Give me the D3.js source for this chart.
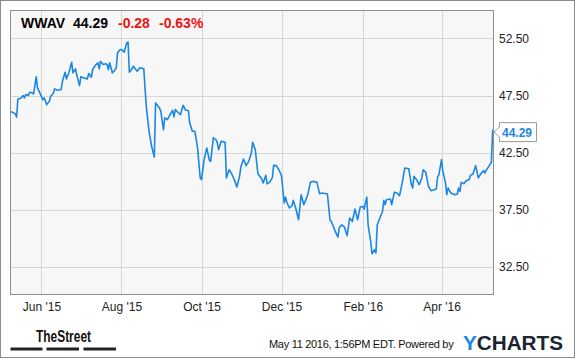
<!DOCTYPE html>
<html>
<head>
<meta charset="utf-8">
<script src="https://cdn.jsdelivr.net/npm/d3@7/dist/d3.min.js"></script>
<style>
  body { margin: 0; background: #fff; }
  svg { display: block; font-family: "Liberation Sans", Arial, sans-serif; }
</style>
</head>
<body>
<svg id="chart" width="575" height="358"></svg>
<script>
// price data (WWAV, daily-ish closes)
const dates = [
  "2015-05-08","2015-05-12","2015-05-13","2015-05-14","2015-05-16","2015-05-18","2015-05-19","2015-05-20","2015-05-22","2015-05-23",
  "2015-05-25","2015-05-26","2015-05-28","2015-05-29","2015-05-31","2015-06-02","2015-06-03","2015-06-05","2015-06-07","2015-06-08",
  "2015-06-10","2015-06-11","2015-06-13","2015-06-16","2015-06-17","2015-06-19","2015-06-20","2015-06-22","2015-06-24","2015-06-25",
  "2015-06-27","2015-06-28","2015-06-30","2015-07-01","2015-07-03","2015-07-06","2015-07-07","2015-07-09","2015-07-10","2015-07-12",
  "2015-07-14","2015-07-15","2015-07-16","2015-07-18","2015-07-20","2015-07-21","2015-07-22","2015-07-23","2015-07-25","2015-07-27",
  "2015-07-28","2015-07-29","2015-07-31","2015-08-01","2015-08-03","2015-08-05","2015-08-06","2015-08-07","2015-08-09","2015-08-10",
  "2015-08-13","2015-08-15","2015-08-18","2015-08-19","2015-08-20","2015-08-22","2015-08-24","2015-08-26","2015-08-27","2015-08-30",
  "2015-08-31","2015-09-02","2015-09-03","2015-09-05","2015-09-07","2015-09-09","2015-09-10","2015-09-11","2015-09-13","2015-09-15",
  "2015-09-17","2015-09-19","2015-09-21","2015-09-22","2015-09-24","2015-09-26","2015-09-28","2015-09-30","2015-10-01","2015-10-03",
  "2015-10-05","2015-10-07","2015-10-08","2015-10-10","2015-10-12","2015-10-13","2015-10-14","2015-10-16","2015-10-19","2015-10-20",
  "2015-10-22","2015-10-24","2015-10-26","2015-10-28","2015-10-30","2015-10-31","2015-11-02","2015-11-04","2015-11-06","2015-11-08",
  "2015-11-09","2015-11-11","2015-11-13","2015-11-16","2015-11-17","2015-11-19","2015-11-20","2015-11-22","2015-11-24","2015-11-25",
  "2015-11-27","2015-11-29","2015-12-01","2015-12-03","2015-12-04","2015-12-05","2015-12-07","2015-12-09","2015-12-10","2015-12-12",
  "2015-12-14","2015-12-16","2015-12-18","2015-12-21","2015-12-23","2015-12-25","2015-12-28","2015-12-30","2016-01-01","2016-01-05",
  "2016-01-07","2016-01-08","2016-01-10","2016-01-11","2016-01-13","2016-01-14","2016-01-16","2016-01-18","2016-01-20","2016-01-22",
  "2016-01-24","2016-01-26","2016-01-28","2016-01-30","2016-02-01","2016-02-02","2016-02-04","2016-02-05","2016-02-07","2016-02-08",
  "2016-02-10","2016-02-11","2016-02-12","2016-02-14","2016-02-16","2016-02-17","2016-02-18","2016-02-19","2016-02-22","2016-02-23",
  "2016-02-25","2016-02-27","2016-02-29","2016-03-02","2016-03-04","2016-03-07","2016-03-09","2016-03-10","2016-03-11","2016-03-13",
  "2016-03-15","2016-03-17","2016-03-18","2016-03-20","2016-03-22","2016-03-24","2016-03-28","2016-03-29","2016-03-30","2016-04-01",
  "2016-04-02","2016-04-04","2016-04-05","2016-04-06","2016-04-08","2016-04-11","2016-04-13","2016-04-14","2016-04-15","2016-04-16",
  "2016-04-18","2016-04-20","2016-04-22","2016-04-23","2016-04-25","2016-04-27","2016-04-28","2016-04-29","2016-05-01","2016-05-03",
  "2016-05-04","2016-05-05","2016-05-07","2016-05-09","2016-05-10","2016-05-11"
];
const prices = [
  46.11, 45.91, 45.59, 47.20, 47.23, 47.49, 47.29, 47.58, 47.49, 47.78,
  47.73, 47.64, 49.14, 48.17, 47.67, 47.14, 47.29, 46.70, 46.99, 47.43,
  47.67, 48.08, 47.96, 48.02, 48.75, 49.54, 48.96, 49.54, 50.42, 49.49,
  49.84, 49.25, 48.37, 49.14, 49.05, 48.96, 49.43, 49.10, 49.78, 50.13,
  50.37, 49.84, 50.51, 50.22, 50.28, 50.22, 49.78, 50.37, 49.49, 49.72,
  49.93, 51.24, 51.53, 51.53, 51.30, 52.12, 52.18, 49.54, 49.84, 50.07,
  49.63, 49.93, 49.84, 48.02, 46.44, 44.36, 43.04, 42.11, 46.85, 46.41,
  46.11, 44.51, 45.54, 45.39, 45.83, 46.20, 45.62, 46.26, 46.03, 45.83,
  46.64, 46.20, 46.18, 45.10, 44.36, 44.36, 42.90, 40.27, 40.12, 41.87,
  42.90, 41.81, 41.72, 43.78, 43.63, 43.39, 42.75, 43.48, 43.39, 40.27,
  40.99, 40.64, 40.12, 39.47, 40.41, 41.23, 41.93, 41.35, 41.72, 42.46,
  43.39, 42.75, 40.64, 40.18, 39.83, 40.49, 39.74, 39.91, 40.27, 41.37,
  41.35, 40.99, 40.47, 38.07, 38.60, 38.16, 37.63, 37.83, 38.30, 37.54,
  36.60, 38.80, 37.92, 38.80, 39.88, 39.97, 39.88, 38.89, 38.95, 38.86,
  36.54, 36.45, 35.87, 35.58, 35.08, 35.87, 36.16, 35.96, 35.20, 36.75,
  36.45, 37.54, 36.60, 37.72, 37.77, 37.54, 38.60, 36.16, 34.70, 33.62,
  33.97, 33.68, 36.16, 36.75, 37.33, 38.30, 37.92, 38.36, 38.42, 37.92,
  39.00, 38.95, 38.71, 39.83, 41.14, 41.08, 39.68, 39.39, 40.41, 40.12,
  39.68, 40.27, 40.99, 40.76, 39.53, 39.15, 39.30, 40.35, 40.56, 41.87,
  40.85, 39.83, 38.80, 39.39, 38.95, 38.80, 38.86, 39.39, 39.09, 39.88,
  39.77, 40.05, 40.12, 40.49, 40.62, 41.35, 40.85, 40.27, 40.64, 40.91,
  40.70, 40.93, 41.28, 41.64, 44.45, 44.29
];

// axis ticks
const xTickDates = ["2015-06-01","2015-08-01","2015-10-01","2015-12-01","2016-02-01","2016-04-01"];
const xTickLabels = ["Jun '15","Aug '15","Oct '15","Dec '15","Feb '16","Apr '16"];
const yTicks = [32.5, 37.5, 42.5, 47.5, 52.5];

// header
const ticker = "WWAV";
const lastPrice = 44.29;
const change = "-0.28";
const changePct = "-0.63%";

const parse = d3.timeParse("%Y-%m-%d");
const serie = dates.map((d, i) => ({ date: parse(d), value: prices[i] }));

const svg = d3.select("#chart");
const plot = { left: 10, top: 10, right: 494, bottom: 295 };

const x = d3.scaleTime()
  .domain([parse("2015-05-08"), parse("2016-05-11")])
  .range([plot.left, plot.right]);

const y = d3.scaleLinear()
  .domain([30, 55])
  .range([plot.bottom, plot.top]);

// outer frame
svg.append("rect")
  .attr("x", 0.5).attr("y", 0.5)
  .attr("width", 574).attr("height", 357)
  .attr("fill", "#fff")
  .attr("stroke", "#8c8c8c");

// plot background
svg.append("rect")
  .attr("x", plot.left).attr("y", plot.top)
  .attr("width", plot.right - plot.left).attr("height", plot.bottom - plot.top)
  .attr("fill", "#f7f7f7");

// gridlines
svg.append("g")
  .selectAll("line")
  .data(yTicks)
  .join("line")
  .attr("x1", plot.left).attr("x2", plot.right)
  .attr("y1", d => Math.round(y(d)) + 0.5)
  .attr("y2", d => Math.round(y(d)) + 0.5)
  .attr("stroke", "#d6d6d6");

svg.append("g")
  .selectAll("line")
  .data(xTickDates)
  .join("line")
  .attr("x1", d => Math.round(x(parse(d))) + 0.5)
  .attr("x2", d => Math.round(x(parse(d))) + 0.5)
  .attr("y1", plot.top).attr("y2", plot.bottom)
  .attr("stroke", "#d6d6d6");

// price line
const line = d3.line()
  .x(d => x(d.date))
  .y(d => y(d.value));

svg.append("path")
  .datum(serie)
  .attr("d", line)
  .attr("fill", "none")
  .attr("stroke", "#1a87e4")
  .attr("stroke-width", 1.6)
  .attr("stroke-linejoin", "round");

// plot border
svg.append("rect")
  .attr("x", plot.left + 0.5).attr("y", plot.top + 0.5)
  .attr("width", plot.right - plot.left - 1).attr("height", plot.bottom - plot.top - 1)
  .attr("fill", "none")
  .attr("stroke", "#8f8f8f");

// y axis labels
const yAxis = d3.axisRight(y)
  .tickValues(yTicks)
  .tickSize(0)
  .tickPadding(5)
  .tickFormat(d3.format(".2f"));

svg.append("g")
  .attr("transform", `translate(${plot.right},0)`)
  .call(yAxis)
  .call(g => g.select(".domain").remove())
  .call(g => g.selectAll("text")
    .attr("font-family", "Liberation Sans, Arial, sans-serif")
    .attr("font-size", 12)
    .attr("fill", "#222"));

// x axis labels
const xAxis = d3.axisBottom(x)
  .tickValues(xTickDates.map(parse))
  .tickSize(0)
  .tickPadding(7)
  .tickFormat((d, i) => xTickLabels[i]);

svg.append("g")
  .attr("transform", `translate(0,${plot.bottom})`)
  .call(xAxis)
  .call(g => g.select(".domain").remove())
  .call(g => g.selectAll("text")
    .attr("font-family", "Liberation Sans, Arial, sans-serif")
    .attr("font-size", 12)
    .attr("fill", "#222"));

// header text
const header = svg.append("g").attr("font-size", 14).attr("font-weight", "bold");
header.append("text").attr("x", 21).attr("y", 28).attr("fill", "#000").text(ticker);
header.append("text").attr("x", 73).attr("y", 28).attr("fill", "#000").text(lastPrice.toFixed(2));
header.append("text").attr("x", 118).attr("y", 28).attr("fill", "#ee1111").text(change);
header.append("text").attr("x", 159).attr("y", 28).attr("fill", "#ee1111").text(changePct);

// last price tag
const yLast = y(lastPrice);
const tag = svg.append("g");
tag.append("path")
  .attr("d", `M${plot.right},${yLast} L499.5,${yLast - 5} L499.5,${yLast - 9.5} L536.5,${yLast - 9.5} L536.5,${yLast + 9.5} L499.5,${yLast + 9.5} L499.5,${yLast + 5} Z`)
  .attr("fill", "#fff")
  .attr("stroke", "#999");
tag.append("text")
  .attr("x", 502).attr("y", yLast + 4.5)
  .attr("font-size", 12).attr("font-weight", "bold")
  .attr("fill", "#1a87e4")
  .text(lastPrice.toFixed(2));

// footer: TheStreet logo
svg.append("text")
  .attr("x", 36).attr("y", 342)
  .attr("font-family", "Liberation Sans Narrow, Liberation Sans, Arial, sans-serif")
  .attr("font-size", 16).attr("font-weight", "bold")
  .attr("fill", "#111")
  .attr("textLength", 55).attr("lengthAdjust", "spacingAndGlyphs")
  .text("TheStreet");

const bars = [[10.5, 42.5], [46.5, 79], [83.5, 116]];
svg.append("g")
  .selectAll("rect")
  .data(bars)
  .join("rect")
  .attr("x", d => d[0]).attr("y", 347.5)
  .attr("width", d => d[1] - d[0]).attr("height", 3)
  .attr("fill", "#222");

// footer: timestamp and YCharts
svg.append("text")
  .attr("x", 269).attr("y", 348)
  .attr("font-size", 11)
  .attr("letter-spacing", "-0.3px")
  .attr("fill", "#111")
  .text("May 11 2016, 1:56PM EDT.  Powered by");

const yc = svg.append("text")
  .attr("x", 463).attr("y", 349.5)
  .attr("font-size", 21).attr("font-weight", "bold")
  .attr("textLength", 100).attr("lengthAdjust", "spacingAndGlyphs");
yc.append("tspan").attr("fill", "#1a87e4").text("Y");
yc.append("tspan").attr("fill", "#1b2431").text("CHARTS");
</script>
</body>
</html>
